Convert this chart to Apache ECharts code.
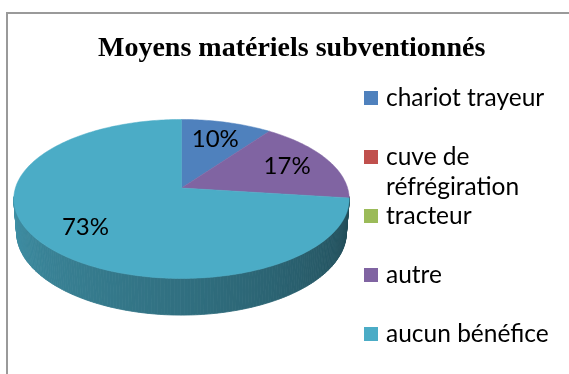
<!DOCTYPE html>
<html>
<head>
<meta charset="utf-8">
<script src="https://cdn.jsdelivr.net/npm/echarts@6/dist/echarts.min.js"></script>
<style>
  html, body { margin: 0; padding: 0; background: #ffffff; }
  #chart { width: 569px; height: 374px; }
</style>
</head>
<body>
<div id="chart"></div>
<script>
// Chart content
const chartTitle = 'Moyens matériels subventionnés';
const categories = ['chariot trayeur', 'cuve de réfrégiration', 'tracteur', 'autre', 'aucun bénéfice'];
const values = [10, 0, 0, 17, 73];
const colors = ['#4f81bd', '#c0504d', '#9bbb59', '#8064a2', '#4bacc6'];

const total = values.reduce((a, b) => a + b, 0);
const starts = [];
values.reduce((acc, v) => { starts.push(acc); return acc + v; }, 0);

// Perspective view of a tilted disc (radius 1, thickness = depth)
const VIEW = { cx: 181.5, cy: 188, f: 1063, D: 6.4, tilt: 28 * Math.PI / 180, depth: 0.23 };
const S = Math.sin(VIEW.tilt), C = Math.cos(VIEW.tilt);

// theta: clockwise from 12 o'clock, r: radius fraction, H: height (0 = top face)
function project(theta, r, H) {
  const X = r * Math.sin(theta);
  const Z = -r * Math.cos(theta);
  const d = VIEW.D - Z * C - H * S;
  return [VIEW.cx + VIEW.f * X / d, VIEW.cy + VIEW.f * (Z * S - H * C) / d];
}

function shade(hex, k) {
  const n = parseInt(hex.slice(1), 16);
  const r = Math.round(((n >> 16) & 255) * k);
  const g = Math.round(((n >> 8) & 255) * k);
  const b = Math.round((n & 255) * k);
  return 'rgb(' + r + ',' + g + ',' + b + ')';
}

// outer wall is visible between the two silhouette points
const edgeTheta = Math.acos(-C / VIEW.D);
const TWO_PI = Math.PI * 2;
const STEP = Math.PI / 180;

function wallLight(theta) {
  const t = Math.min(1, Math.max(0, (theta - edgeTheta) / (TWO_PI - 2 * edgeTheta)));
  return 0.42 + 0.41 * Math.pow(t, 0.85);
}

function renderItem(params, api) {
  const i = params.dataIndex;
  const v = api.value(0);
  const children = [];
  if (!(v > 0)) return { type: 'group', children: children };
  const a0 = starts[i] / total * TWO_PI;
  const a1 = (starts[i] + v) / total * TWO_PI;
  const base = colors[i];

  // side wall
  const lo = Math.max(a0, edgeTheta - 0.03);
  const hi = Math.min(a1, TWO_PI - edgeTheta + 0.03);
  for (let t = lo; t < hi; t += STEP) {
    const t2 = Math.min(hi, t + STEP);
    const col = shade(base, wallLight((t + t2) / 2));
    children.push({
      type: 'polygon',
      z2: 1,
      shape: { points: [project(t, 1, 0), project(t2, 1, 0), project(t2, 1, -VIEW.depth), project(t, 1, -VIEW.depth)] },
      style: { fill: col, stroke: col, lineWidth: 0.8 }
    });
  }

  // top face
  const pts = [project(0, 0, 0)];
  const n = Math.max(2, Math.ceil((a1 - a0) / STEP));
  for (let k = 0; k <= n; k++) pts.push(project(a0 + (a1 - a0) * k / n, 1, 0));
  children.push({
    type: 'polygon',
    z2: 10,
    shape: { points: pts },
    style: { fill: base, stroke: base, lineWidth: 0.5 }
  });

  // percentage label
  const mid = (a0 + a1) / 2;
  const lp = project(mid, 0.72, 0);
  children.push({
    type: 'text',
    z2: 20,
    x: lp[0],
    y: lp[1],
    style: {
      text: Math.round(v / total * 100) + '%',
      align: 'center',
      verticalAlign: 'middle',
      fill: '#000000',
      font: '24px Lato'
    }
  });
  return { type: 'group', children: children };
}

// legend entries
const legendItems = [];
categories.forEach((name, i) => {
  const y = 98 + 59 * i;
  legendItems.push({
    type: 'rect',
    shape: { x: 364, y: y - 7, width: 14, height: 14 },
    style: { fill: colors[i] }
  });
  legendItems.push({
    type: 'text',
    x: 386,
    y: y - 15,
    style: {
      text: name,
      width: 200,
      overflow: 'break',
      lineHeight: 30,
      verticalAlign: 'top',
      fill: '#000000',
      font: '24.5px Lato'
    }
  });
});

const chart = echarts.init(document.getElementById('chart'), null, { renderer: 'canvas' });
chart.setOption({
  backgroundColor: '#ffffff',
  animation: false,
  title: {
    text: chartTitle,
    left: 98,
    top: 35,
    padding: 0,
    textStyle: { fontFamily: 'Liberation Serif', fontWeight: 'bold', fontSize: 28, color: '#000000' }
  },
  graphic: [
    {
      type: 'rect',
      shape: { x: 7, y: 13, width: 700, height: 500 },
      style: { fill: 'none', stroke: '#9a9a9a', lineWidth: 2 },
      silent: true
    },
    ...legendItems
  ],
  series: [{
    type: 'custom',
    name: chartTitle,
    coordinateSystem: 'none',
    data: values.map(v => [v]),
    renderItem: renderItem,
    silent: true
  }]
});
</script>
</body>
</html>
